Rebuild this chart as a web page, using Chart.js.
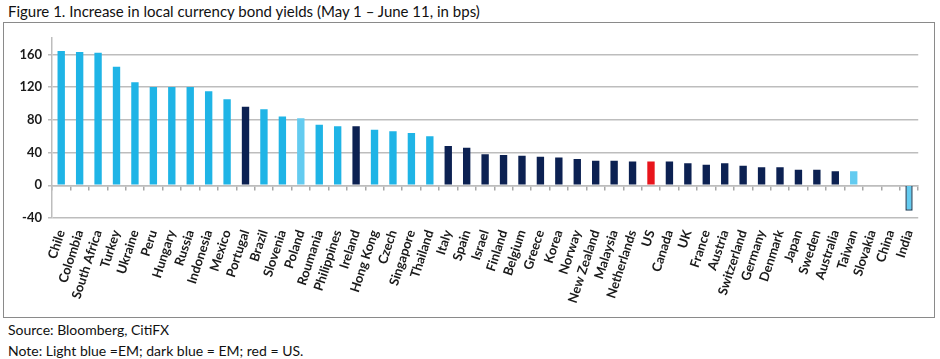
<!DOCTYPE html>
<html>
<head>
<meta charset="utf-8">
<script src="https://cdn.jsdelivr.net/npm/chart.js@4.4.1/dist/chart.umd.min.js"></script>
<style>
  html, body { margin: 0; padding: 0; background: #fff; }
  body { width: 940px; height: 359px; position: relative; overflow: hidden; font-family: Lato, "Open Sans", sans-serif; color: #111; }
  .title { position: absolute; left: 8px; top: 2px; font-size: 15px; white-space: nowrap; }
  .frame { position: absolute; left: 3px; top: 22px; width: 930px; height: 294px; border: 1px solid #8a8a8a; }
  .note { position: absolute; left: 8px; font-size: 14px; white-space: nowrap; }
</style>
</head>
<body>
<div class="title">Figure 1. Increase in local currency bond yields (May 1 – June 11, in bps)</div>
<div class="frame"><canvas id="chart" width="930" height="294"></canvas></div>
<div class="note" style="top:321px">Source: Bloomberg, CitiFX</div>
<div class="note" style="top:342px">Note: Light blue =EM; dark blue = EM; red = US.</div>
<script>
  // ---------- Data (bps) ----------
  const countries = ['Chile','Colombia','South Africa','Turkey','Ukraine','Peru','Hungary','Russia',
    'Indonesia','Mexico','Portugal','Brazil','Slovenia','Poland','Roumania','Philippines','Ireland',
    'Hong Kong','Czech','Singapore','Thailand','Italy','Spain','Israel','Finland','Belgium','Greece',
    'Korea','Norway','New Zealand','Malaysia','Netherlands','US','Canada','UK','France','Austria',
    'Switzerland','Germany','Denmark','Japan','Sweden','Australia','Taiwan','Slovakia','China','India'];

  const changes = [164, 163, 162, 145, 126, 120, 120, 120,
    115, 105, 96, 93, 84, 82, 74, 72, 72,
    68, 66, 64, 60, 48, 46, 38, 37, 36, 35,
    34, 32, 30, 30, 29, 29, 29, 27, 25, 27,
    24, 22, 22, 19, 19, 17, 17, 1, 0, -31];

  // em = light blue, emPale = paler blue, dm = dark blue, us = red
  const groups = ['em','em','em','em','em','em','em','em',
    'em','em','dm','em','em','emPale','em','em','dm',
    'em','em','em','em','dm','dm','dm','dm','dm','dm',
    'dm','dm','dm','dm','dm','us','dm','dm','dm','dm',
    'dm','dm','dm','dm','dm','dm','emPale','dm','dm','emPale'];

  const yTicks = [-40, 0, 40, 80, 120, 160];

  const palette = { em: '#1fb4e6', emPale: '#63cbf0', dm: '#0c2152', us: '#e8151c' };
  const gridGrey = '#bdbdbd';
  const labelFont = { family: 'Lato, "Open Sans", sans-serif', size: 13, weight: 'bold' };

  const barColors = groups.map(g => palette[g]);
  const borderColors = countries.map(c => c === 'India' ? '#24465f' : 'rgba(0,0,0,0)');
  const borderWidths = countries.map(c => c === 'India' ? 1.5 : 0);

  new Chart(document.getElementById('chart').getContext('2d'), {
    type: 'bar',
    data: {
      labels: countries,
      datasets: [{
        data: changes,
        backgroundColor: barColors,
        borderColor: borderColors,
        borderWidth: borderWidths,
        barPercentage: 0.4,
        categoryPercentage: 1.0
      }]
    },
    options: {
      responsive: false,
      animation: false,
      layout: { padding: { top: 15, right: 14, bottom: 0, left: 0 } },
      plugins: { legend: { display: false }, tooltip: { enabled: false } },
      scales: {
        x: {
          type: 'category',
          position: 'bottom',
          grid: { display: false, drawTicks: false },
          border: { display: false },
          ticks: { autoSkip: false, minRotation: 72, maxRotation: 72, padding: 10, color: '#1a1a1a', font: labelFont },
          afterFit: s => { s.height = 99; }
        },
        x2: {
          type: 'category',
          labels: countries,
          position: { y: 0 },
          grid: { drawOnChartArea: false, drawTicks: true, tickLength: 4, offset: true, color: '#a8a8a8', lineWidth: 1.5 },
          border: { display: true, color: gridGrey, width: 1.5 },
          ticks: { display: false, autoSkip: false }
        },
        y: {
          min: -40,
          max: 180,
          afterBuildTicks: s => { s.ticks = yTicks.map(v => ({ value: v })); },
          afterFit: s => { s.width = 48; },
          grid: { color: gridGrey, lineWidth: 1.5, tickLength: 4 },
          border: { display: true, color: gridGrey, width: 1.5 },
          ticks: { padding: 6, color: '#1a1a1a', font: { ...labelFont, size: 13 } }
        }
      }
    }
  });
</script>
</body>
</html>
